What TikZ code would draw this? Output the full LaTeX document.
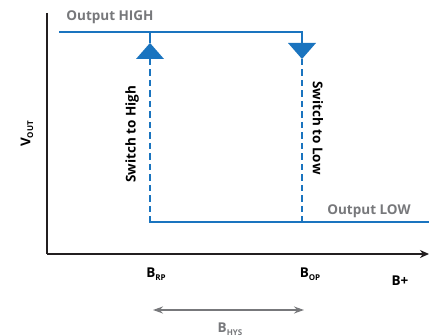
\documentclass[tikz,border=0pt]{standalone}
\usepackage{fontspec}
\setmainfont{Open Sans}[BoldFont={Open Sans Bold}]
\usetikzlibrary{arrows.meta}
\definecolor{hblue}{HTML}{1A74BF}
\definecolor{hgray}{HTML}{77787B}
\definecolor{hblack}{HTML}{231F20}
\newcommand{\lowsub}[1]{\raisebox{-0.35ex}{\fontsize{8}{8}\selectfont #1}}
\begin{document}
\begin{tikzpicture}[x=1pt,y=-1pt,
  lbl/.style={font=\fontsize{13.5}{14}\selectfont\bfseries, inner sep=0pt},
  glbl/.style={lbl, text=hgray},
  axisline/.style={draw=hblack, line width=2.2pt},
  sigline/.style={draw=hblue, line width=2pt},
  sigdash/.style={sigline, dash pattern=on 6.5pt off 4pt},
  tri/.style={fill=hblue, draw=none}]
\useasboundingbox (0,0) rectangle (429,336);
% axes
\coordinate (Ytop) at (47,13);
\coordinate (O) at (47,254);
\coordinate (Xend) at (429,254);
\draw[axisline] (Ytop) -- (O);
\draw[axisline, -{Stealth[length=9pt,width=8pt]}] (O) -- (Xend);
% output HIGH path
\coordinate (hiL) at (59,32);
\coordinate (hiR) at (302,32);
\coordinate (upStub) at (150,32);
\coordinate (upTip) at (150,43);
\coordinate (upBase) at (150,59);
\coordinate (dnBase) at (302,43);
\coordinate (dnTip) at (302,59);
\coordinate (loL) at (150,222);
\coordinate (loMid) at (302,222);
\coordinate (loR) at (429,222);
\draw[sigline] (hiL) -- (hiR) -- (dnBase);
\draw[sigline] (upStub) -- (upTip);
\fill[tri] (upTip) -- ([xshift=14pt]upBase) -- ([xshift=-14pt]upBase) -- cycle;
\fill[tri] ([xshift=-14pt]dnBase) -- ([xshift=14pt]dnBase) -- (dnTip) -- cycle;
\draw[sigdash] (upBase) -- (loL);
\draw[sigdash] (dnTip) -- (loMid);
\draw[sigline] ([xshift=-1pt]loL) -- (loR);
% labels
\node[glbl] (hi) at (110,17) {Output HIGH};
\node[glbl] (lo) at (369,211) {Output LOW};
\node[lbl, rotate=90] (swh) at (132,134) {Switch to High};
\node[lbl, rotate=-90] (swl) at (318,128) {Switch to Low};
\node[lbl, rotate=90] (vout) at (27,134) {V\lowsub{OUT}};
\node[lbl] (brp) at (156,274) {B\lowsub{RP}};
\node[lbl] (bop) at (310,274) {B\lowsub{OP}};
\node[lbl] (bplus) at (400,281) {B+};
% hysteresis
\coordinate (hysL) at (153,310);
\coordinate (hysR) at (304,310);
\draw[draw=hgray, line width=1.8pt, {Stealth[length=10pt,width=7pt]}-{Stealth[length=10pt,width=7pt]}] (hysL) -- (hysR);
\node[glbl] (bhys) at (230,329) {B\lowsub{HYS}};
\end{tikzpicture}
\end{document}
